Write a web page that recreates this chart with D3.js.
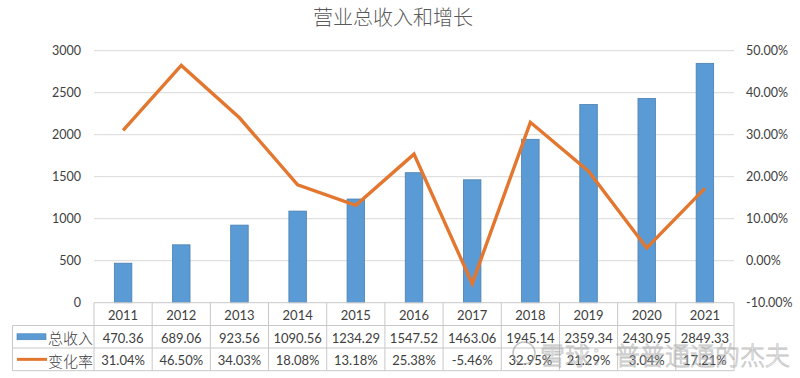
<!DOCTYPE html>
<html><head><meta charset="utf-8">
<script src="https://cdn.jsdelivr.net/npm/d3@7"></script>
<style>body{margin:0;background:#fff;}svg{display:block;}</style>
</head><body><svg id="c" width="800" height="378"></svg>
<script>
const years = ["2011","2012","2013","2014","2015","2016","2017","2018","2019","2020","2021"];
const revenue = [470.36,689.06,923.56,1090.56,1234.29,1547.52,1463.06,1945.14,2359.34,2430.95,2849.33];
const growth = [31.04,46.50,34.03,18.08,13.18,25.38,-5.46,32.95,21.29,3.04,17.21];
const leftTicks = [0,500,1000,1500,2000,2500,3000];
const rightTicks = [-10,0,10,20,30,40,50];
const seriesNames = ["总收入","变化率"];
const title = "营业总收入和增长";

const svg = d3.select("#c");
const font = "Lato,'Noto Sans CJK SC',sans-serif";
const cjk = "'Noto Sans CJK SC',sans-serif";
const L = 94, R = 734, T = 50.7, B = 302.7;
const x = d3.scaleBand().domain(years).range([L, R]);
const y = d3.scaleLinear().domain([0,3000]).range([B, T]);
const y2 = d3.scaleLinear().domain([-10,50]).range([B, T]);

svg.append("text").attr("x", 393).attr("y", 25).attr("text-anchor","middle")
  .attr("font-family", cjk).attr("font-weight",300).attr("font-size", 20).attr("fill","#595959").text(title);

// gridlines
svg.append("g").selectAll("line").data(leftTicks.slice(1)).join("line")
  .attr("x1", L).attr("x2", R).attr("y1", d=>y(d)).attr("y2", d=>y(d))
  .attr("stroke","#d9d9d9").attr("stroke-width",1);

// left axis
const la = svg.append("g").attr("transform",`translate(${L},0)`)
  .call(d3.axisLeft(y).tickValues(leftTicks).tickSize(0).tickPadding(13).tickFormat(d3.format("d")));
la.select(".domain").remove();
la.selectAll("text").attr("font-family",font).attr("font-size",12.5).attr("fill","#404040");

// right axis
const ra = svg.append("g").attr("transform",`translate(${R},0)`)
  .call(d3.axisRight(y2).tickValues(rightTicks).tickSize(0).tickPadding(12).tickFormat(d=>d.toFixed(2)+"%"));
ra.select(".domain").remove();
ra.selectAll("text").attr("font-family",font).attr("font-size",12.5).attr("fill","#404040");

// bars
const bw = 17.5;
svg.append("g").selectAll("rect").data(revenue).join("rect")
  .attr("x",(d,i)=>x(years[i])+x.bandwidth()/2-bw/2).attr("width",bw)
  .attr("y",d=>y(d)).attr("height",d=>B-y(d))
  .attr("fill","#5b9bd5").attr("stroke","#4a7fb0").attr("stroke-width",0.8);

// line
svg.append("path").datum(growth)
  .attr("d", d3.line().x((d,i)=>x(years[i])+x.bandwidth()/2).y(d=>y2(d)))
  .attr("fill","none").attr("stroke","#e3772f").attr("stroke-width",3.4).attr("stroke-linejoin","miter");

// table
const rowY = [B, 325.5, 348, 370.7];
const tg = svg.append("g");
const lc = "#c8c8c8";
tg.append("line").attr("x1",L).attr("x2",R).attr("y1",B).attr("y2",B).attr("stroke",lc);
[1,2,3].forEach(k=>tg.append("line").attr("x1",12.5).attr("x2",R).attr("y1",rowY[k]).attr("y2",rowY[k]).attr("stroke",lc));
years.forEach(yr=>tg.append("line").attr("x1",x(yr)).attr("x2",x(yr)).attr("y1",B).attr("y2",rowY[3]).attr("stroke",lc));
tg.append("line").attr("x1",R).attr("x2",R).attr("y1",B).attr("y2",rowY[3]).attr("stroke",lc);
tg.append("line").attr("x1",12.5).attr("x2",12.5).attr("y1",rowY[1]).attr("y2",rowY[3]).attr("stroke",lc);

const cellText = (txt, cx, cy) => tg.append("text").attr("x",cx).attr("y",cy).attr("text-anchor","middle")
  .attr("dominant-baseline","central").attr("font-family",font).attr("font-size",13).attr("fill","#404040").text(txt);
years.forEach((yr,i)=>{
  const cx = x(yr)+x.bandwidth()/2;
  cellText(yr, cx, (rowY[0]+rowY[1])/2+1);
  cellText(revenue[i].toFixed(2), cx, (rowY[1]+rowY[2])/2+1);
  cellText(growth[i].toFixed(2)+"%", cx, (rowY[2]+rowY[3])/2+1);
});
const m1 = (rowY[1]+rowY[2])/2, m2 = (rowY[2]+rowY[3])/2;
tg.append("rect").attr("x",17).attr("y",m1-3).attr("width",29).attr("height",6).attr("fill","#5b9bd5").attr("stroke","#4a7fb0").attr("stroke-width",0.6);
tg.append("line").attr("x1",17).attr("x2",47).attr("y1",m2).attr("y2",m2).attr("stroke","#e3772f").attr("stroke-width",3);
[m1,m2].forEach((m,k)=>tg.append("text").attr("x",48).attr("y",m+1).attr("dominant-baseline","central")
  .attr("font-family",cjk).attr("font-weight",300).attr("font-size",15).attr("fill","#404040").text(seriesNames[k]));

// watermark
const wm = svg.append("g").attr("opacity",0.6);
wm.append("circle").attr("cx",524).attr("cy",353).attr("r",11).attr("fill","none").attr("stroke","#9a9a9a").attr("stroke-width",1.5);
wm.append("text").attr("x",540).attr("y",354).attr("dominant-baseline","central")
  .attr("font-family",cjk).attr("font-weight",300).attr("font-size",25).attr("fill","rgba(255,255,255,0.5)").attr("stroke","#a0a0a0").attr("stroke-width",0.8)
  .text("雪球：普普通通的杰夫");
</script></body></html>
